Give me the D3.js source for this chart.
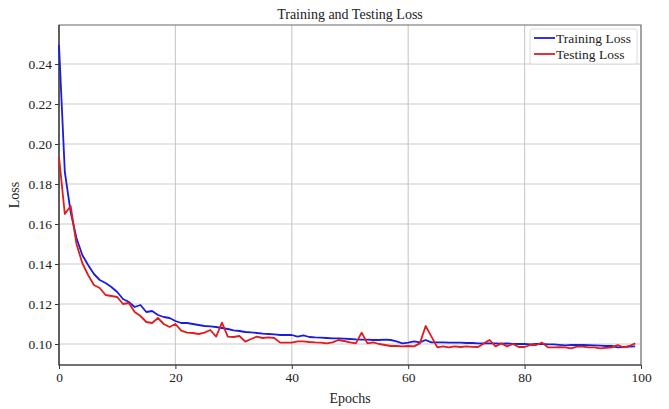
<!DOCTYPE html>
<html>
<head>
<meta charset="utf-8">
<script src="https://cdn.jsdelivr.net/npm/d3@7"></script>
<style>
  body { margin: 0; background: #fff; }
  svg text { font-family: "Liberation Serif", "DejaVu Serif", serif; fill: #222; }
</style>
</head>
<body>
<div id="chart"></div>
<script>
// values, one per epoch (0..99)
const trainLoss = [
  0.2495, 0.186, 0.166, 0.153, 0.1445, 0.1395, 0.135, 0.132, 0.1305, 0.1285,
  0.126, 0.1225, 0.121, 0.1185, 0.1195, 0.116, 0.1165, 0.1145, 0.1135, 0.113,
  0.1115, 0.1105, 0.1105, 0.110, 0.1095, 0.109, 0.1088, 0.1085, 0.108, 0.1075,
  0.1068, 0.1065, 0.106, 0.1058, 0.1055, 0.1052, 0.105, 0.1048, 0.1045, 0.1045,
  0.1045, 0.1037, 0.1043, 0.1035, 0.1033, 0.1032, 0.103, 0.1028, 0.1028, 0.1027,
  0.1025, 0.1023, 0.1022, 0.1022, 0.102, 0.102, 0.1022, 0.102, 0.1013, 0.1003,
  0.1007, 0.1013, 0.1008, 0.102, 0.1008, 0.1008, 0.1008, 0.1007, 0.1007, 0.1007,
  0.1005, 0.1005, 0.1003, 0.1003, 0.1003, 0.1003, 0.1002, 0.1003, 0.1001, 0.1,
  0.1, 0.0998, 0.1, 0.1, 0.0998, 0.0998, 0.0996, 0.0993, 0.0995, 0.0995,
  0.0995, 0.0994, 0.0993, 0.0992, 0.099, 0.099, 0.0983, 0.0985, 0.0987, 0.0988
];
const testLoss = [
  0.1935, 0.165, 0.169, 0.150, 0.1405, 0.1345, 0.1295, 0.128, 0.1245, 0.124,
  0.1235, 0.120, 0.1205, 0.116, 0.114, 0.111, 0.1105, 0.113, 0.110, 0.1085,
  0.110, 0.1067, 0.1057, 0.1055, 0.105, 0.1057, 0.107, 0.1037, 0.1107, 0.1037,
  0.1035, 0.104, 0.1012, 0.1025, 0.1037, 0.103, 0.1033, 0.103, 0.1007, 0.1007,
  0.1007, 0.1013, 0.1013, 0.101, 0.1008, 0.1007, 0.1003, 0.1008, 0.102, 0.1015,
  0.1008, 0.1003, 0.1057, 0.1003, 0.1008, 0.1, 0.0995, 0.099, 0.099, 0.0988,
  0.099, 0.0988, 0.1003, 0.109, 0.1037, 0.0983, 0.0988, 0.0983, 0.0988, 0.0985,
  0.0988, 0.0986, 0.0985, 0.1003, 0.102, 0.0988, 0.1003, 0.0988, 0.1, 0.0985,
  0.0985, 0.0995, 0.0995, 0.1007, 0.0983, 0.0983, 0.0984, 0.0983, 0.0978, 0.0987,
  0.0987, 0.0983, 0.0983, 0.0978, 0.0981, 0.0983, 0.0995, 0.0983, 0.099, 0.1003
];
const epochs = trainLoss.map((d, i) => i);
const xTicks = [0, 20, 40, 60, 80, 100];
const yTicks = [0.10, 0.12, 0.14, 0.16, 0.18, 0.20, 0.22, 0.24];
const seriesNames = ['Training Loss', 'Testing Loss'];

const W = 669, H = 409;
const margin = { top: 25, right: 28, bottom: 44, left: 59 };
const width = W - margin.left - margin.right;
const height = H - margin.top - margin.bottom;

const svg = d3.select('#chart').append('svg')
    .attr('width', W)
    .attr('height', H);

const g = svg.append('g')
    .attr('transform', `translate(${margin.left},${margin.top})`);

const x = d3.scaleLinear().domain([0, 100]).range([0, width]);
const y = d3.scaleLinear().domain([0.0895, 0.2595]).range([height, 0]);

// grid
g.append('g').selectAll('line')
    .data(xTicks).enter().append('line')
    .attr('x1', d => x(d)).attr('x2', d => x(d))
    .attr('y1', 0).attr('y2', height)
    .attr('stroke', '#cccccc').attr('stroke-width', 1.2);
g.append('g').selectAll('line')
    .data(yTicks).enter().append('line')
    .attr('x1', 0).attr('x2', width)
    .attr('y1', d => y(d)).attr('y2', d => y(d))
    .attr('stroke', '#cccccc').attr('stroke-width', 1.2);

// axes
const xAxis = g.append('g')
    .attr('transform', `translate(0,${height})`)
    .call(d3.axisBottom(x).tickValues(xTicks).tickSize(4).tickPadding(3).tickFormat(d3.format('d')));
const yAxis = g.append('g')
    .call(d3.axisLeft(y).tickValues(yTicks).tickSize(4).tickPadding(3).tickFormat(d3.format('.2f')));
[xAxis, yAxis].forEach(a => {
    a.select('.domain').remove();
    a.selectAll('line').attr('stroke', '#333');
    a.selectAll('text').style('font-size', '13.5px').style('font-family', '"Liberation Serif", serif').attr('fill', '#222');
});

// frame
g.append('rect')
    .attr('width', width).attr('height', height)
    .attr('fill', 'none').attr('stroke', '#666').attr('stroke-width', 1);
g.append('path')
    .attr('d', `M0,0V${height}H${width}`)
    .attr('fill', 'none').attr('stroke', '#333').attr('stroke-width', 1.2);

// lines
const line = d3.line().x((d, i) => x(epochs[i])).y(d => y(d));
g.append('path').datum(trainLoss)
    .attr('d', line).attr('fill', 'none')
    .attr('stroke', '#1c1ce0').attr('stroke-width', 1.8).attr('stroke-linejoin', 'round');
g.append('path').datum(testLoss)
    .attr('d', line).attr('fill', 'none')
    .attr('stroke', '#e01c1c').attr('stroke-width', 1.8).attr('stroke-linejoin', 'round');

// labels
svg.append('text')
    .attr('x', margin.left + width / 2).attr('y', 19)
    .attr('text-anchor', 'middle').style('font-size', '14px')
    .text('Training and Testing Loss');
svg.append('text')
    .attr('x', margin.left + width / 2).attr('y', 403)
    .attr('text-anchor', 'middle').style('font-size', '14px')
    .text('Epochs');
svg.append('text')
    .attr('transform', `translate(19,${margin.top + height / 2}) rotate(-90)`)
    .attr('text-anchor', 'middle').style('font-size', '14px')
    .text('Loss');

// legend
const legend = g.append('g').attr('transform', `translate(${width - 111},4)`);
legend.append('rect')
    .attr('width', 107).attr('height', 35).attr('rx', 2)
    .attr('fill', '#fff').attr('fill-opacity', 0.85)
    .attr('stroke', '#dddddd');
const legendColors = ['#1c1ce0', '#e01c1c'];
seriesNames.forEach((name, i) => {
    const row = legend.append('g').attr('transform', `translate(4,${9 + i * 16})`);
    row.append('line').attr('x1', 0).attr('x2', 21)
        .attr('stroke', legendColors[i]).attr('stroke-width', 1.8);
    row.append('text').attr('x', 22).attr('y', 4.5)
        .style('font-size', '13.5px').text(name);
});
</script>
</body>
</html>
